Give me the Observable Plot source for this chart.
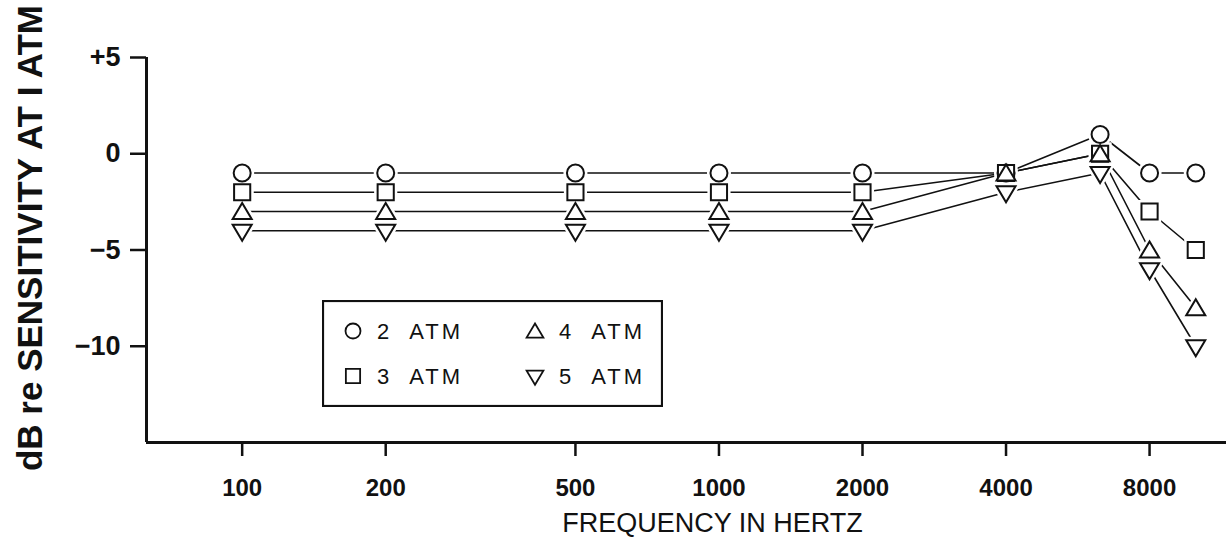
<!DOCTYPE html>
<html>
<head>
<meta charset="utf-8">
<script src="https://cdn.jsdelivr.net/npm/d3@7"></script>
<script src="https://cdn.jsdelivr.net/npm/@observablehq/plot@0.6"></script>
<style>
  html, body { margin: 0; padding: 0; background: #fff; }
  #wrap { position: relative; width: 1230px; height: 544px; }
  #legend { position: absolute; left: 322px; top: 300px; }
</style>
</head>
<body>
<div id="wrap"></div>
<script>
// ---- data ----
const frequencies = [100, 200, 500, 1000, 2000, 4000, 6300, 8000, 10000];
const seriesNames = ["2 ATM", "3 ATM", "4 ATM", "5 ATM"];
const atm2 = [-1, -1, -1, -1, -1, -1, 1, -1, -1];
const atm3 = [-2, -2, -2, -2, -2, -1, 0, -3, -5];
const atm4 = [-3, -3, -3, -3, -3, -1, 0, -5, -8];
const atm5 = [-4, -4, -4, -4, -4, -2, -1, -6, -10];
const xTicks = [100, 200, 500, 1000, 2000, 4000, 8000];
const yTicks = [5, 0, -5, -10];
const xDomain = [63, 11600];
const yDomain = [-15, 5];
const yTitle = "dB re SENSITIVITY AT I ATM";
const xTitle = "FREQUENCY IN HERTZ";

// ---- symbols ----
const circleSym = {draw(ctx, size) { const r = Math.sqrt(size / Math.PI); ctx.moveTo(r, 0); ctx.arc(0, 0, r, 0, 2 * Math.PI); ctx.closePath(); }};
const squareSym = {draw(ctx, size) { const r = Math.sqrt(size / Math.PI), s = r * 0.95; ctx.moveTo(-s, -s); ctx.lineTo(s, -s); ctx.lineTo(s, s); ctx.lineTo(-s, s); ctx.closePath(); }};
const triUpSym = {draw(ctx, size) { const k = Math.sqrt(size / Math.PI) / 8.5; ctx.moveTo(0, -8.5 * k); ctx.lineTo(9.5 * k, 7.5 * k); ctx.lineTo(-9.5 * k, 7.5 * k); ctx.closePath(); }};
const triDownSym = {draw(ctx, size) { const k = Math.sqrt(size / Math.PI) / 8.5; ctx.moveTo(0, 10 * k); ctx.lineTo(9.5 * k, -6 * k); ctx.lineTo(-9.5 * k, -6 * k); ctx.closePath(); }};
const symbols = [circleSym, squareSym, triUpSym, triDownSym];

const valueArrays = [atm2, atm3, atm4, atm5];
const seriesData = seriesNames.map((name, i) => frequencies.map((f, j) => ({series: name, freq: f, db: valueArrays[i][j]})));

const fmtY = d => d > 0 ? "+" + d : d === 0 ? "0" : "\u2212" + Math.abs(d);
const sans = "'Liberation Sans', Arial, sans-serif";

const marks = [
  Plot.ruleX([xDomain[0]], {stroke: "#111", strokeWidth: 3}),
  Plot.ruleY([yDomain[0]], {stroke: "#111", strokeWidth: 3}),
  Plot.axisY({ticks: yTicks, tickFormat: fmtY, tickSize: 16, tickPadding: 10, strokeWidth: 2.5,
    fontSize: 27, fontWeight: "bold", fontFamily: sans, label: null, stroke: "#111", fill: "#111"}),
  Plot.axisX({ticks: xTicks, tickFormat: () => "", tickSize: 14, strokeWidth: 2.5, label: null, stroke: "#111"}),
  Plot.text(xTicks, {x: d => d, text: d => String(d), frameAnchor: "bottom", dy: 46, fontSize: 24, fontWeight: "bold",
    fontFamily: sans, fill: "#111", lineAnchor: "middle"})
];
seriesData.forEach(data => marks.push(Plot.line(data, {x: "freq", y: "db", stroke: "#111", strokeWidth: 1.6})));
seriesData.forEach((data, i) => marks.push(Plot.dot(data, {x: "freq", y: "db", symbol: symbols[i], r: 8.5, fill: "white", stroke: "white", strokeWidth: 7})));
seriesData.forEach((data, i) => marks.push(Plot.dot(data, {x: "freq", y: "db", symbol: symbols[i], r: 8.5, fill: "white", stroke: "#111", strokeWidth: 2})));
marks.push(Plot.text([yTitle], {frameAnchor: "left", dx: -116, dy: -12, rotate: -90, fontSize: 35, fontWeight: "bold",
  fontFamily: sans, fill: "#111", lineAnchor: "middle", textAnchor: "middle"}));
marks.push(Plot.text([xTitle], {frameAnchor: "bottom", dx: 26, dy: 81, fontSize: 27, fontFamily: sans,
  fill: "#111", lineAnchor: "middle", textAnchor: "middle"}));

const chart = Plot.plot({
  width: 1230, height: 544,
  marginLeft: 146, marginRight: 4, marginTop: 57, marginBottom: 102,
  x: {type: "log", domain: xDomain},
  y: {domain: yDomain},
  style: {background: "white", overflow: "visible"},
  marks
});
const wrap = document.getElementById("wrap");
wrap.appendChild(chart);

// ---- legend ----
const lw = 341, lh = 107;
const lg = d3.select(wrap).append("svg").attr("id", "legend").attr("width", lw).attr("height", lh);
lg.append("rect").attr("x", 1).attr("y", 1).attr("width", lw - 2).attr("height", lh - 2)
  .attr("fill", "white").attr("stroke", "#111").attr("stroke-width", 2.2);
const cols = [31, 213], rows = [31, 76];
seriesNames.forEach((name, i) => {
  const cx = cols[Math.floor(i / 2)], cy = rows[i % 2];
  const p = d3.path();
  symbols[i].draw(p, Math.PI * 7.5 * 7.5);
  lg.append("path").attr("d", p.toString()).attr("transform", `translate(${cx},${cy})`)
    .attr("fill", "white").attr("stroke", "#111").attr("stroke-width", 1.8);
  lg.append("text").attr("x", cx + 24).attr("y", cy).attr("dy", "0.36em")
    .attr("font-family", sans).attr("font-size", 22)
    .attr("letter-spacing", "3px").attr("fill", "#111")
    .style("white-space", "pre")
    .text(name.replace(" ", "  "));
});
</script>
</body>
</html>
